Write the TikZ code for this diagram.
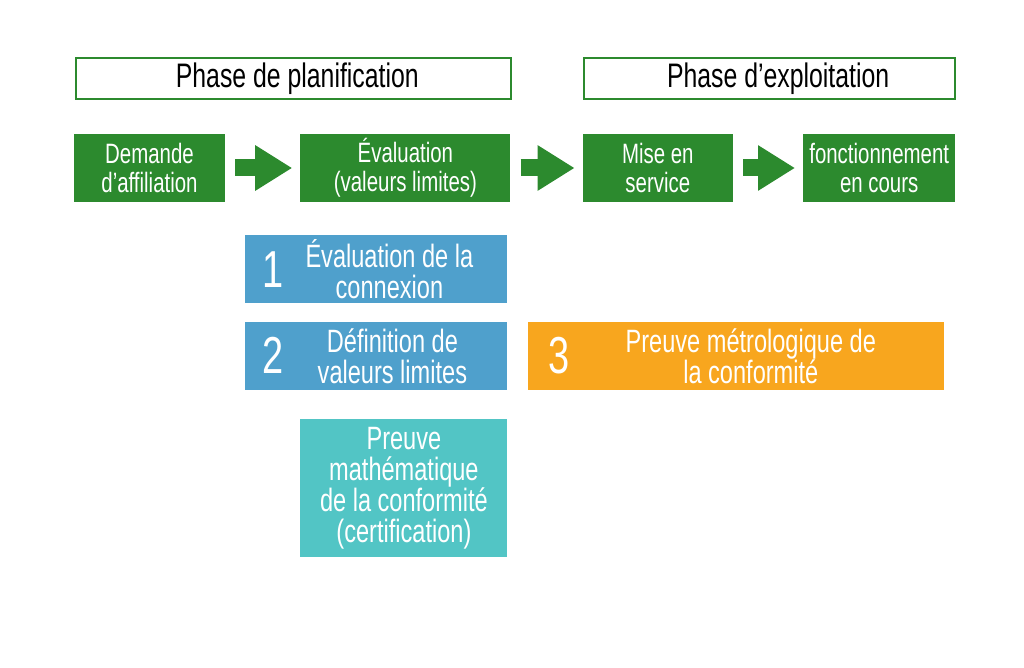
\documentclass[tikz,border=0pt]{standalone}
\usepackage{fontspec}
\setmainfont[FakeStretch=0.73]{Liberation Sans}
\usepackage{tikz}
\usetikzlibrary{arrows.meta, positioning, calc}

\definecolor{phasegreen}{RGB}{44,138,46}
\definecolor{stepblue}{RGB}{79,160,204}
\definecolor{stepteal}{RGB}{82,197,197}
\definecolor{steporange}{RGB}{248,166,30}

\begin{document}
\begin{tikzpicture}[
    x=1pt, y=-1pt,
    box/.style={rectangle, inner sep=0pt, align=center, text=white},
    greenbox/.style={box, fill=phasegreen, minimum height=68pt,
        font=\fontsize{28}{29}\selectfont},
    phasebox/.style={rectangle, draw=phasegreen, line width=2pt, fill=white,
        minimum height=41pt, font=\fontsize{34}{38}\selectfont},
    stepbox/.style={box, minimum height=68pt, font=\fontsize{32.3}{31}\selectfont},
    numtext/.style={text=white, inner sep=0pt, font=\fontsize{52}{52}\selectfont},
    steptext/.style={text=white, align=center, inner sep=0pt,
        font=\fontsize{32.3}{31}\selectfont},
    blockarrow/.style={line width=17pt, phasegreen,
        -{Triangle[length=37pt, width=43pt]}, shorten <=10pt, shorten >=8pt}
]
\useasboundingbox (0,0) rectangle (1024,668);

% Main row of stages
\node[greenbox, minimum width=151pt] (demande) at (149.5,168) {Demande\\d’affiliation};
\node[greenbox, minimum width=210pt, right=75pt of demande] (eval) {Évaluation\\(valeurs limites)};
\node[greenbox, minimum width=150pt, right=72pt of eval] (mise) {Mise en\\service};
\node[greenbox, minimum width=152pt, right=70pt of mise] (fonct) {fonctionnement\\en cours};

% Stage arrows
\draw[blockarrow] (demande) -- (eval);
\draw[blockarrow] (eval) -- (mise);
\draw[blockarrow] (mise) -- (fonct);

% Phase headers
\node[phasebox, minimum width=435pt, above=34pt of demande.north west, anchor=south west, xshift=1pt] (planif) {\hspace*{8pt}Phase de planification};
\node[phasebox, minimum width=371pt, above=34pt of mise.north west, anchor=south west] (exploit) {\hspace*{18pt}Phase d’exploitation};

% Numbered steps
\node[stepbox, fill=stepblue, minimum width=262pt, below=33pt of eval.south east, anchor=north east, xshift=-3pt] (connex) {};
\node[stepbox, fill=stepblue, minimum width=262pt, below=18pt of connex] (limites) {};
\node[stepbox, fill=steporange, minimum width=416pt, right=20pt of limites] (metro) {};
\node[stepbox, fill=stepteal, minimum width=207pt, minimum height=138pt, below=29pt of limites.south east, anchor=north east] (certif) {Preuve\\mathématique\\de la conformité\\(certification)};

\node[numtext] (num1) at ($(connex.west)+(28,0)$) {1};
\node[steptext] (txt1) at ($(connex.center)+(13,0)$) {Évaluation de la\\connexion};
\node[numtext] (num2) at ($(limites.west)+(28,0)$) {2};
\node[steptext] (txt2) at ($(limites.center)+(16,0)$) {Définition de\\valeurs limites};
\node[numtext] (num3) at ($(metro.west)+(31,0)$) {3};
\node[steptext] (txt3) at ($(metro.center)+(15,0)$) {Preuve métrologique de\\la conformité};

\end{tikzpicture}
\end{document}
